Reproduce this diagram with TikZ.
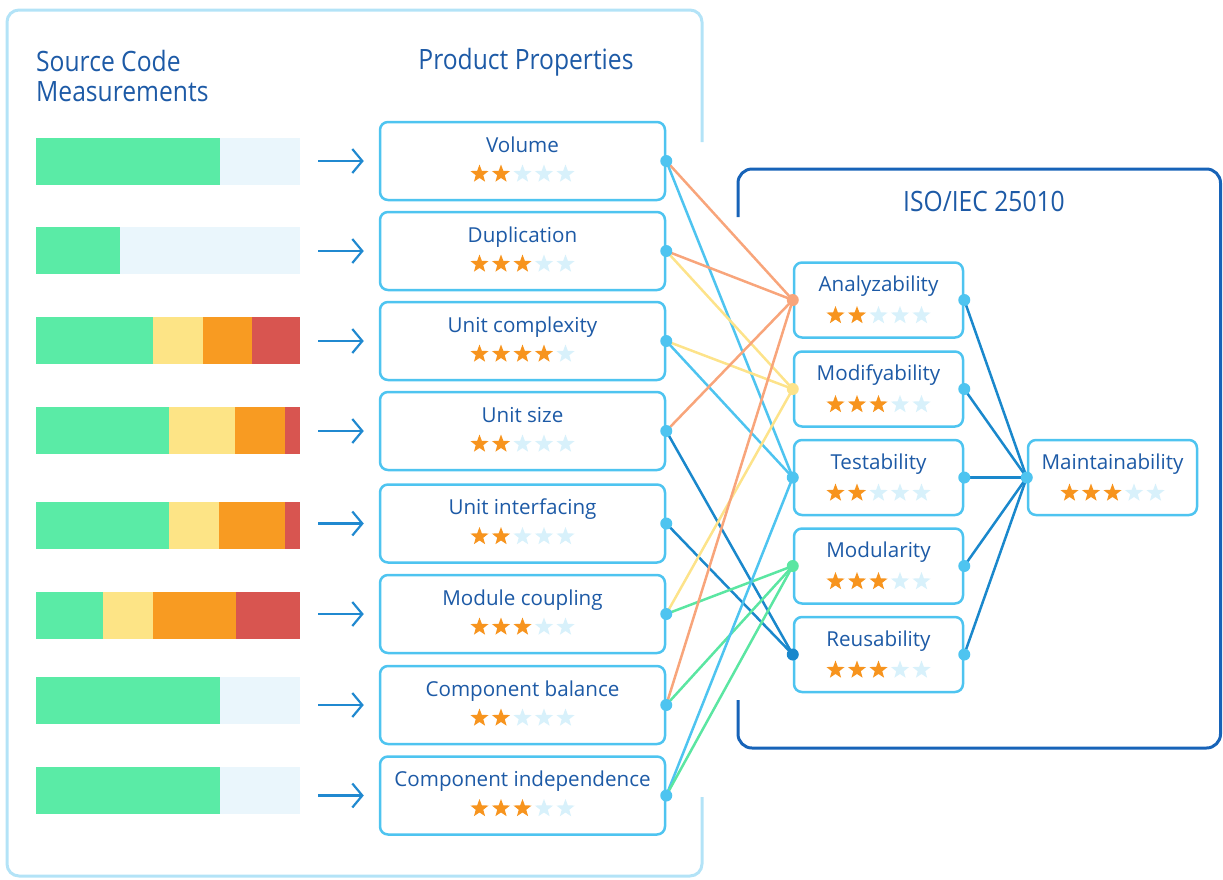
\documentclass[tikz,border=0pt]{standalone}
\usepackage{fontspec}
\setmainfont{Open Sans}
\newfontfamily\titlefont[FakeStretch=0.88]{Open Sans}
\usetikzlibrary{shapes.geometric,arrows.meta}
\definecolor{panelL}{HTML}{B3E3F7}
\definecolor{isoBlue}{HTML}{1763B8}
\definecolor{boxBlue}{HTML}{4EC4F0}
\definecolor{textBlue}{HTML}{1D5AA6}
\definecolor{arrowBlue}{HTML}{2089D0}
\definecolor{lnOrange}{HTML}{F8A57B}
\definecolor{lnYellow}{HTML}{FDE38A}
\definecolor{lnLight}{HTML}{4EC4F0}
\definecolor{lnGreen}{HTML}{5BE6A2}
\definecolor{lnDark}{HTML}{1A88CC}
\definecolor{starOn}{HTML}{F7941E}
\definecolor{starOff}{HTML}{D8F1FB}
\definecolor{barGreen}{HTML}{5AEBA6}
\definecolor{barLight}{HTML}{EAF6FC}
\definecolor{barYellow}{HTML}{FDE486}
\definecolor{barOrange}{HTML}{F89B22}
\definecolor{barRed}{HTML}{D85550}
\tikzset{
  pbox/.style={draw=boxBlue, line width=2.5pt, rounded corners=8pt, fill=white, minimum width=285pt, minimum height=78pt, inner sep=0pt},
  qbox/.style={draw=boxBlue, line width=2.5pt, rounded corners=8pt, fill=white, minimum width=169pt, minimum height=75pt, inner sep=0pt},
  lbl/.style={text=textBlue, font=\fontsize{20.6}{24}\selectfont, inner sep=0pt, anchor=base},
  ttl/.style={text=textBlue, font=\fontsize{28}{30}\titlefont, inner sep=0pt},
  starshape/.style={star, star points=5, star point ratio=2.4, inner sep=0pt, minimum size=19pt, draw=none},
  barnode/.style={fill=barLight, minimum width=264pt, minimum height=47pt, inner sep=0pt, draw=none},
  dotnode/.style={circle, fill=#1, inner sep=0pt, minimum size=12pt, draw=none},
  arr/.style={draw=arrowBlue, line width=2.2pt, -{Straight Barb[length=10pt,width=24pt]}, shorten <=18pt, shorten >=15pt},
  conn/.style={line width=2.5pt, draw=#1},
}
\newcommand\starrow[4]{%
  \foreach \i in {1,...,5}{%
    \pgfmathsetmacro\sx{#2+(\i-3)*21.5}%
    \ifnum\i>#4\relax\def\sc{starOff}\else\def\sc{starOn}\fi
    \node[starshape, fill=\sc] (#1-s\i) at (\sx,#3) {};
  }%
}
\newcommand\propbox[4]{%
  \node[pbox] (#1) at (522.5,#2) {};
  \node[lbl] (#1-t) at (522.5,{#2-9}) {#3};
  \starrow{#1}{522.5}{#2+13}{#4}%
}
\newcommand\qualbox[5]{%
  \node[qbox] (#1) at (#2,#3) {};
  \node[lbl] (#1-t) at (#2,{#3-8.5}) {#4};
  \starrow{#1}{#2}{#3+15.5}{#5}%
}
\begin{document}
\begin{tikzpicture}[x=1pt,y=-1pt]
\useasboundingbox (0,0) rectangle (1223,879);
% panels
\draw[panelL, line width=3pt, rounded corners=12pt] (702,142) -- (702,10) -- (7,10) -- (7,876) -- (702,876) -- (702,797);
\draw[isoBlue, line width=3pt, rounded corners=14pt] (738,217) -- (738,169) -- (1220.5,169) -- (1220.5,748) -- (738,748) -- (738,700);
% titles
\node[ttl, anchor=north west, align=left] (t1) at (36,50) {Source Code\\Measurements};
\node[ttl] (t2) at (526,62) {Product Properties};
\node[ttl] (t3) at (984,201) {ISO/IEC 25010};
% bars
\node[barnode] (b1) at (168,161.5) {};
\fill[barGreen] (36,138) rectangle (220,185);
\node[barnode] (b2) at (168,250) {};
\fill[barGreen] (36,226.5) rectangle (120,273.5);
\node[barnode] (b3) at (168,340.5) {};
\fill[barGreen] (36,317) rectangle (153,364);
\fill[barYellow] (153,317) rectangle (203,364);
\fill[barOrange] (203,317) rectangle (252,364);
\fill[barRed] (252,317) rectangle (300,364);
\node[barnode] (b4) at (168,430.5) {};
\fill[barGreen] (36,407) rectangle (169,454);
\fill[barYellow] (169,407) rectangle (235,454);
\fill[barOrange] (235,407) rectangle (285,454);
\fill[barRed] (285,407) rectangle (300,454);
\node[barnode] (b5) at (168,525.5) {};
\fill[barGreen] (36,502) rectangle (169,549);
\fill[barYellow] (169,502) rectangle (219,549);
\fill[barOrange] (219,502) rectangle (285,549);
\fill[barRed] (285,502) rectangle (300,549);
\node[barnode] (b6) at (168,615.5) {};
\fill[barGreen] (36,592) rectangle (103,639);
\fill[barYellow] (103,592) rectangle (153,639);
\fill[barOrange] (153,592) rectangle (236,639);
\fill[barRed] (236,592) rectangle (300,639);
\node[barnode] (b7) at (168,700.5) {};
\fill[barGreen] (36,677) rectangle (220,724);
\node[barnode] (b8) at (168,790) {};
\fill[barGreen] (36,766.5) rectangle (220,813.5);
% property boxes
\propbox{p1}{161}{Volume}{2}
\propbox{p2}{251}{Duplication}{3}
\propbox{p3}{341}{Unit complexity}{4}
\propbox{p4}{431}{Unit size}{2}
\propbox{p5}{523.5}{Unit interfacing}{2}
\propbox{p6}{614}{Module coupling}{3}
\propbox{p7}{705}{Component balance}{2}
\propbox{p8}{795.5}{Component independence}{3}
% arrows
\foreach \k in {1,...,8}{
  \draw[arr] (b\k.east |- p\k.west) -- (p\k.west);
}
% quality boxes
\qualbox{q1}{878.5}{300}{Analyzability}{2}
\qualbox{q2}{878.5}{389}{Modifyability}{3}
\qualbox{q3}{878.5}{477.5}{Testability}{2}
\qualbox{q4}{878.5}{566}{Modularity}{3}
\qualbox{q5}{878.5}{654.5}{Reusability}{3}
\qualbox{m}{1112.5}{477.5}{Maintainability}{3}
% connectors properties -> qualities
\draw[conn=lnOrange] (p1.east) -- (q1.west);
\draw[conn=lnLight] (p1.east) -- (q3.west);
\draw[conn=lnOrange] (p2.east) -- (q1.west);
\draw[conn=lnYellow] (p2.east) -- (q2.west);
\draw[conn=lnYellow] (p3.east) -- (q2.west);
\draw[conn=lnLight] (p3.east) -- (q3.west);
\draw[conn=lnOrange] (p4.east) -- (q1.west);
\draw[conn=lnDark] (p4.east) -- (q5.west);
\draw[conn=lnDark] (p5.east) -- (q5.west);
\draw[conn=lnYellow] (p6.east) -- (q2.west);
\draw[conn=lnGreen] (p6.east) -- (q4.west);
\draw[conn=lnOrange] (p7.east) -- (q1.west);
\draw[conn=lnGreen] (p7.east) -- (q4.west);
\draw[conn=lnLight] (p8.east) -- (q3.west);
\draw[conn=lnGreen] (p8.east) -- (q4.west);
% qualities -> maintainability
\foreach \k in {1,...,5}{
  \draw[conn=lnDark] (q\k.east) -- (m.west);
}
% dots
\foreach \k in {1,...,8}{
  \node[dotnode=boxBlue] (p\k-d) at (p\k.east) {};
}
\node[dotnode=lnOrange] (q1-dl) at (q1.west) {};
\node[dotnode=lnYellow] (q2-dl) at (q2.west) {};
\node[dotnode=lnLight] (q3-dl) at (q3.west) {};
\node[dotnode=lnGreen] (q4-dl) at (q4.west) {};
\node[dotnode=lnDark] (q5-dl) at (q5.west) {};
\foreach \k in {1,...,5}{
  \node[dotnode=boxBlue] (q\k-dr) at (q\k.east) {};
}
\node[dotnode=boxBlue] (m-d) at (m.west) {};
\end{tikzpicture}
\end{document}
